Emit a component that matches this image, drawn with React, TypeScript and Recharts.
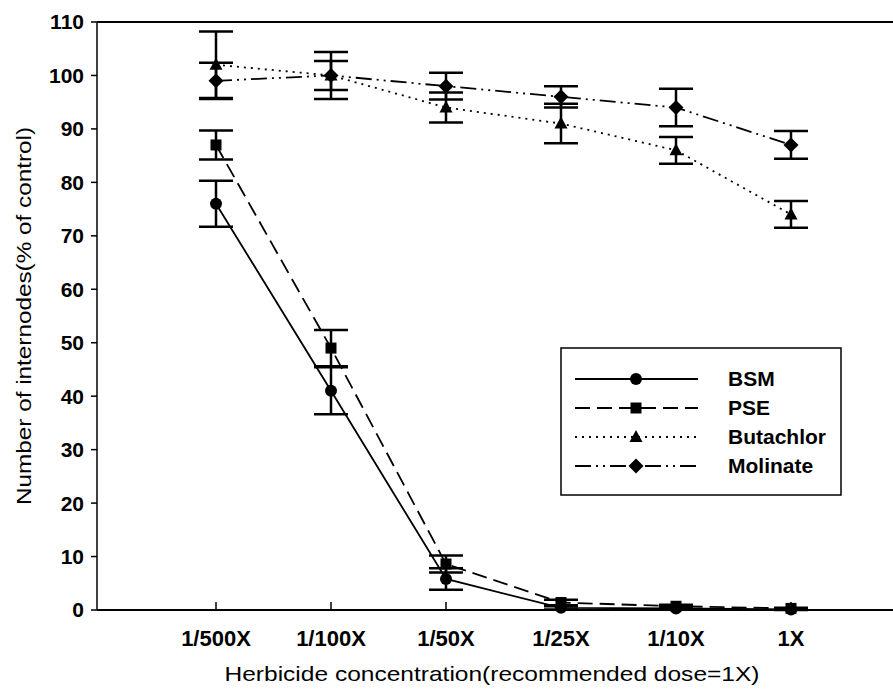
import { LineChart, Line, XAxis, YAxis, ErrorBar, ReferenceLine, Legend } from "recharts"

const categories = ["1/500X", "1/100X", "1/50X", "1/25X", "1/10X", "1X"]
const bsm = [76, 41, 5.8, 0.4, 0.3, 0.1]
const bsmErr = [4.3, 4.4, 2, 0.3, 0.2, 0.1]
const pse = [87, 49, 8.6, 1.4, 0.7, 0.3]
const pseErr = [2.7, 3.4, 1.6, 0.5, 0.3, 0.1]
const butachlor = [102, 100, 94, 91, 86, 74]
const butachlorErr = [6.2, 2.7, 2.8, 3.7, 2.5, 2.5]
const molinate = [99, 100, 98, 96, 94, 87]
const molinateErr = [3.4, 4.4, 2.5, 2, 3.5, 2.6]
const yTicks = [0, 10, 20, 30, 40, 50, 60, 70, 80, 90, 100, 110]

const data = categories.map((name, i) => ({
  name,
  bsm: bsm[i],
  bsmErr: bsmErr[i],
  pse: pse[i],
  pseErr: pseErr[i],
  butachlor: butachlor[i],
  butachlorErr: butachlorErr[i],
  molinate: molinate[i],
  molinateErr: molinateErr[i],
}))

type Shape = "circle" | "square" | "triangle" | "diamond"

const series: { key: string; label: string; dash?: string; shape: Shape }[] = [
  { key: "bsm", label: "BSM", shape: "circle" },
  { key: "pse", label: "PSE", dash: "15 7", shape: "square" },
  { key: "butachlor", label: "Butachlor", dash: "2 5", shape: "triangle" },
  { key: "molinate", label: "Molinate", dash: "16 5 2 5 2 5", shape: "diamond" },
]

const FONT = "Arial, 'Liberation Sans', sans-serif"

function Marker({ cx, cy, shape }: { cx: number; cy: number; shape: Shape }) {
  if (cx == null || cy == null) return null
  switch (shape) {
    case "circle":
      return <circle cx={cx} cy={cy} r={6} fill="#000" />
    case "square":
      return <rect x={cx - 5.5} y={cy - 5.5} width={11} height={11} fill="#000" />
    case "triangle":
      return <polygon points={`${cx},${cy - 7} ${cx + 6.5},${cy + 5} ${cx - 6.5},${cy + 5}`} fill="#000" />
    default:
      return <polygon points={`${cx},${cy - 7.5} ${cx + 7.5},${cy} ${cx},${cy + 7.5} ${cx - 7.5},${cy}`} fill="#000" />
  }
}

function LegendBox() {
  return (
    <svg width={282} height={150} style={{ display: "block" }}>
      <rect x={1} y={1} width={280} height={147} fill="#fff" stroke="#000" strokeWidth={1.5} />
      {series.map((s, i) => {
        const y = 32 + i * 29
        return (
          <g key={s.key}>
            <line x1={15} x2={138} y1={y} y2={y} stroke="#000" strokeWidth={1.8} strokeDasharray={s.dash} />
            <Marker cx={76} cy={y} shape={s.shape} />
            <text x={168} y={y + 7} fontFamily={FONT} fontWeight="bold" fontSize={21} fill="#000">
              {s.label}
            </text>
          </g>
        )
      })}
    </svg>
  )
}

const XTitle = () => (
  <text
    x={492}
    y={681}
    textAnchor="middle"
    fontFamily={FONT}
    fontSize={21}
    fill="#000"
    textLength={535}
    lengthAdjust="spacingAndGlyphs"
  >
    Herbicide concentration(recommended dose=1X)
  </text>
)

const YTitle = () => (
  <text
    x={0}
    y={0}
    transform="translate(31 316) rotate(-90)"
    textAnchor="middle"
    fontFamily={FONT}
    fontSize={20}
    fill="#000"
    textLength={378}
    lengthAdjust="spacingAndGlyphs"
  >
    Number of internodes(% of control)
  </text>
)

export default function App() {
  return (
    <div style={{ position: "absolute", left: 0, top: 0, width: 893, height: 691, background: "#fff" }}>
      <LineChart width={893} height={691} data={data} margin={{ top: 22, right: 0, left: 0, bottom: 0 }}>
        <XAxis
          dataKey="name"
          padding={{ left: 119, right: 102 }}
          height={81}
          interval={0}
          axisLine={{ stroke: "#000", strokeWidth: 2 }}
          tickLine={{ stroke: "#000", strokeWidth: 1.5 }}
          tickSize={-8}
          tickMargin={28}
          tick={{ fill: "#000", fontFamily: FONT, fontWeight: "bold", fontSize: 22 }}
          label={{ content: () => <XTitle /> }}
        />
        <YAxis
          domain={[0, 110]}
          ticks={yTicks}
          width={97}
          interval={0}
          axisLine={{ stroke: "#000", strokeWidth: 1.5 }}
          tickLine={{ stroke: "#000", strokeWidth: 1.5 }}
          tickSize={6}
          tickMargin={7}
          tick={{ fill: "#000", fontFamily: FONT, fontWeight: "bold", fontSize: 21 }}
          label={{ content: () => <YTitle /> }}
        />
        <ReferenceLine y={110} stroke="#000" strokeWidth={2} />
        {series.map((s) => (
          <Line
            key={s.key}
            dataKey={s.key}
            name={s.label}
            type="linear"
            stroke="#000"
            strokeWidth={1.8}
            strokeDasharray={s.dash}
            isAnimationActive={false}
            dot={(p: any) => <Marker key={`${s.key}-${p.index}`} cx={p.cx} cy={p.cy} shape={s.shape} />}
            activeDot={false}
          >
            <ErrorBar dataKey={`${s.key}Err`} width={17} stroke="#000" strokeWidth={2.5} direction="y" isAnimationActive={false} />
          </Line>
        ))}
        <Legend
          layout="vertical"
          align="center"
          verticalAlign="middle"
          wrapperStyle={{ left: 560, top: 347, width: 282, height: 150 }}
          content={() => <LegendBox />}
        />
      </LineChart>
    </div>
  )
}
